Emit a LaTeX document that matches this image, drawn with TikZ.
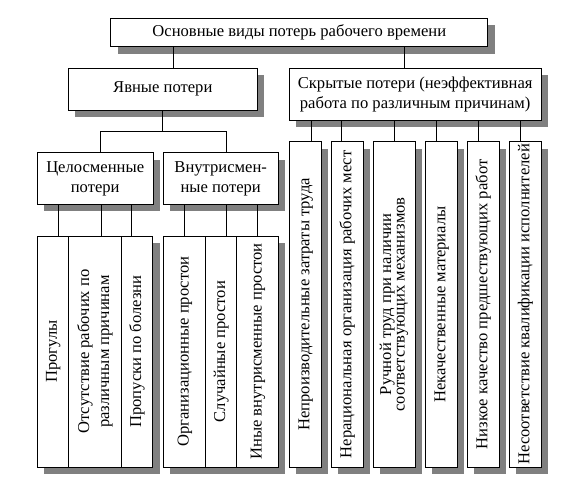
\documentclass[tikz,border=0pt]{standalone}
\usepackage{fontspec}
\setmainfont{Liberation Serif}
\usetikzlibrary{positioning,shadows}

\newcommand{\vtekst}[1]{\rotatebox{90}{\begin{tabular}{@{}c@{}}#1\end{tabular}}}

\begin{document}
\begin{tikzpicture}[x=1pt,y=-1pt,
    font=\fontsize{16.6}{20}\selectfont,
    line width=1pt,node distance=0pt,
    ramka/.style={rectangle,draw,fill=white,inner sep=0pt,outer sep=0pt,align=center,
       drop shadow={shadow xshift=7pt,shadow yshift=-7pt,fill=gray,opacity=1}},
    stolb/.style={ramka,minimum height=231pt},
    kolonna/.style={ramka,minimum height=325.3pt,minimum width=32pt}]
\useasboundingbox (0,0) rectangle (572,488);

%% Верхние уровни
\node [ramka,minimum width=377pt,minimum height=28.4pt] (osn) at (299.3,32.5) {Основные виды потерь рабочего времени};
\node [ramka,minimum width=189pt,minimum height=41.7pt] (yav) at (162.8,89.2) {Явные потери};
\node [ramka,minimum width=251.7pt,minimum height=51.7pt] (skr) at (415.2,94.2) {Скрытые потери (неэффективная\\работа по различным причинам)};
\node [ramka,minimum width=115.7pt,minimum height=51.3pt] (cel) at (95.2,178.4) {Целосменные\\потери};
\node [ramka,minimum width=115.3pt,minimum height=51.3pt] (vnu) at (220.7,178.4) {Внутрисмен-\\ные потери};

%% Явные потери: столбцы
\node [stolb,minimum width=31pt,anchor=north west] (prog) at (37.3,236) {\vtekst{Прогулы}};
\node [stolb,minimum width=53.4pt,right=of prog] (otsut) {\vtekst{Отсутствие рабочих по\\различным причинам}};
\node [stolb,minimum width=31pt,right=of otsut] (propusk) {\vtekst{Пропуски по болезни}};
\node [stolb,minimum width=42.4pt,anchor=north west] (org) at (163.3,236) {\vtekst{Организационные простои}};
\node [stolb,minimum width=31pt,right=of org] (sluch) {\vtekst{Случайные простои}};
\node [stolb,minimum width=41.6pt,right=of sluch] (inye) {\vtekst{Иные внутрисменные простои}};

%% Скрытые потери: столбцы
\node [kolonna,anchor=north west] (r1) at (289.3,141.7) {\vtekst{Непроизводительные затраты труда}};
\node [kolonna,right=10pt of r1] (r2) {\vtekst{Нерациональная организация рабочих мест}};
\node [kolonna,minimum width=42pt,right=10pt of r2] (r3) {\renewcommand{\arraystretch}{0.68}\vtekst{Ручной труд при наличии\\соответствующих механизмов}};
\node [kolonna,right=10pt of r3] (r4) {\vtekst{Некачественные материалы}};
\node [kolonna,right=10pt of r4] (r5) {\vtekst{Низкое качество предшествующих работ}};
\node [kolonna,right=10pt of r5] (r6) {\vtekst{Несоответствие квалификации исполнителей}};

%% Соединительные линии
\coordinate (v1) at ([xshift=10.5pt]yav.north);
\coordinate (v2) at ([xshift=-10.5pt]skr.north);
\draw (v1) -- (v1 |- osn.south);
\draw (v2) -- (v2 |- osn.south);
\coordinate (shina) at ([yshift=-21.7pt]yav.south);
\draw (yav.south) -- (shina);
\draw ([xshift=5.5pt]cel.north) |- (shina) -| ([xshift=6pt]vnu.north);
\foreach \dx in {-36.5,6,36.5}{
  \coordinate (c) at ([xshift=\dx pt]cel.south);
  \draw (c) -- (c |- prog.north);
  \coordinate (c) at ([xshift=\dx pt]vnu.south);
  \draw (c) -- (c |- org.north);
}
\foreach \n/\dx in {r1/5.7,r2/-5.7,r3/0.4,r4/-5,r5/-4.6,r6/-4.8}{
  \coordinate (c) at ([xshift=\dx pt]\n.north);
  \draw (c) -- (c |- skr.south);
}
\end{tikzpicture}
\end{document}
